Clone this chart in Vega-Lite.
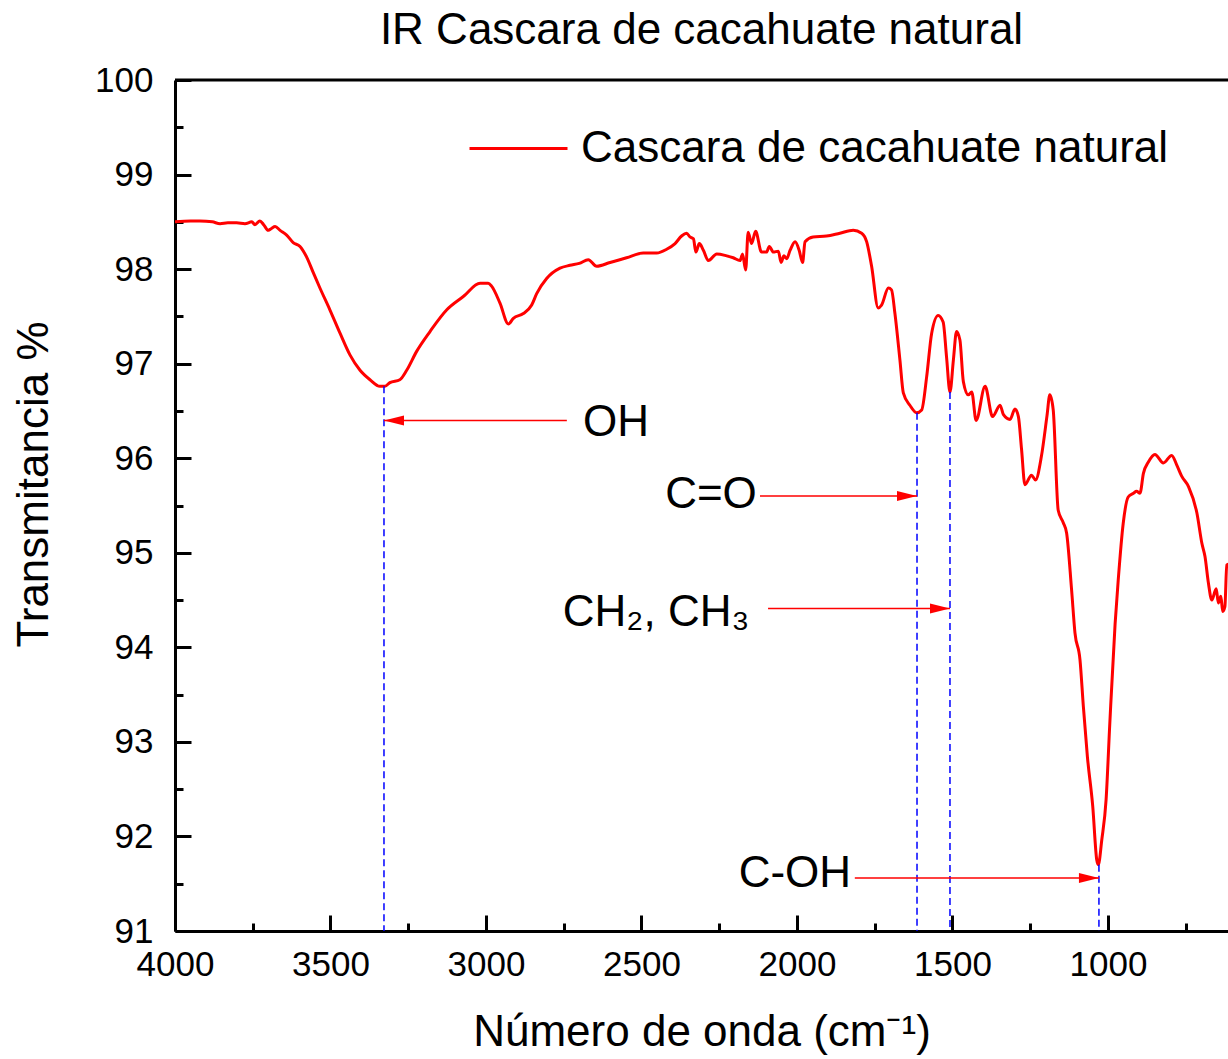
{
  "$schema": "https://vega.github.io/schema/vega-lite/v6.json",
  "autosize": {"type": "none"},
  "padding": {"left": 175, "top": 80, "right": 0, "bottom": 128},
  "width": 1053,
  "height": 851,
  "background": "white",
  "config": {
    "font": "Liberation Sans",
    "view": {"stroke": null},
    "axis": {"grid": false, "labelFont": "Liberation Sans", "titleFont": "Liberation Sans", "labelColor": "black", "titleColor": "black"}
  },
  "title": {"text": "IR Cascara de cacahuate natural", "fontSize": 44, "fontWeight": "normal", "font": "Liberation Sans", "color": "black", "anchor": "middle", "frame": "group", "baseline": "alphabetic", "offset": 36, "dy": 61},
  "datasets": {
    "spectrum": [
      {"wn": 4000, "t": 98.50, "serie": "Cascara de cacahuate natural"},
      {"wn": 3950, "t": 98.51, "serie": "Cascara de cacahuate natural"},
      {"wn": 3920, "t": 98.51, "serie": "Cascara de cacahuate natural"},
      {"wn": 3880, "t": 98.50, "serie": "Cascara de cacahuate natural"},
      {"wn": 3855, "t": 98.48, "serie": "Cascara de cacahuate natural"},
      {"wn": 3830, "t": 98.49, "serie": "Cascara de cacahuate natural"},
      {"wn": 3802, "t": 98.49, "serie": "Cascara de cacahuate natural"},
      {"wn": 3775, "t": 98.48, "serie": "Cascara de cacahuate natural"},
      {"wn": 3753, "t": 98.50, "serie": "Cascara de cacahuate natural"},
      {"wn": 3743, "t": 98.47, "serie": "Cascara de cacahuate natural"},
      {"wn": 3727, "t": 98.51, "serie": "Cascara de cacahuate natural"},
      {"wn": 3715, "t": 98.47, "serie": "Cascara de cacahuate natural"},
      {"wn": 3700, "t": 98.41, "serie": "Cascara de cacahuate natural"},
      {"wn": 3690, "t": 98.43, "serie": "Cascara de cacahuate natural"},
      {"wn": 3678, "t": 98.45, "serie": "Cascara de cacahuate natural"},
      {"wn": 3662, "t": 98.41, "serie": "Cascara de cacahuate natural"},
      {"wn": 3641, "t": 98.36, "serie": "Cascara de cacahuate natural"},
      {"wn": 3620, "t": 98.28, "serie": "Cascara de cacahuate natural"},
      {"wn": 3598, "t": 98.24, "serie": "Cascara de cacahuate natural"},
      {"wn": 3577, "t": 98.13, "serie": "Cascara de cacahuate natural"},
      {"wn": 3555, "t": 97.96, "serie": "Cascara de cacahuate natural"},
      {"wn": 3534, "t": 97.80, "serie": "Cascara de cacahuate natural"},
      {"wn": 3502, "t": 97.57, "serie": "Cascara de cacahuate natural"},
      {"wn": 3469, "t": 97.32, "serie": "Cascara de cacahuate natural"},
      {"wn": 3437, "t": 97.09, "serie": "Cascara de cacahuate natural"},
      {"wn": 3405, "t": 96.93, "serie": "Cascara de cacahuate natural"},
      {"wn": 3373, "t": 96.83, "serie": "Cascara de cacahuate natural"},
      {"wn": 3341, "t": 96.76, "serie": "Cascara de cacahuate natural"},
      {"wn": 3325, "t": 96.76, "serie": "Cascara de cacahuate natural"},
      {"wn": 3309, "t": 96.80, "serie": "Cascara de cacahuate natural"},
      {"wn": 3277, "t": 96.83, "serie": "Cascara de cacahuate natural"},
      {"wn": 3255, "t": 96.93, "serie": "Cascara de cacahuate natural"},
      {"wn": 3223, "t": 97.13, "serie": "Cascara de cacahuate natural"},
      {"wn": 3180, "t": 97.34, "serie": "Cascara de cacahuate natural"},
      {"wn": 3126, "t": 97.57, "serie": "Cascara de cacahuate natural"},
      {"wn": 3073, "t": 97.71, "serie": "Cascara de cacahuate natural"},
      {"wn": 3019, "t": 97.85, "serie": "Cascara de cacahuate natural"},
      {"wn": 2993, "t": 97.85, "serie": "Cascara de cacahuate natural"},
      {"wn": 2982, "t": 97.82, "serie": "Cascara de cacahuate natural"},
      {"wn": 2955, "t": 97.64, "serie": "Cascara de cacahuate natural"},
      {"wn": 2928, "t": 97.42, "serie": "Cascara de cacahuate natural"},
      {"wn": 2912, "t": 97.48, "serie": "Cascara de cacahuate natural"},
      {"wn": 2880, "t": 97.53, "serie": "Cascara de cacahuate natural"},
      {"wn": 2853, "t": 97.62, "serie": "Cascara de cacahuate natural"},
      {"wn": 2837, "t": 97.74, "serie": "Cascara de cacahuate natural"},
      {"wn": 2805, "t": 97.90, "serie": "Cascara de cacahuate natural"},
      {"wn": 2762, "t": 98.01, "serie": "Cascara de cacahuate natural"},
      {"wn": 2730, "t": 98.04, "serie": "Cascara de cacahuate natural"},
      {"wn": 2700, "t": 98.06, "serie": "Cascara de cacahuate natural"},
      {"wn": 2671, "t": 98.10, "serie": "Cascara de cacahuate natural"},
      {"wn": 2644, "t": 98.03, "serie": "Cascara de cacahuate natural"},
      {"wn": 2601, "t": 98.07, "serie": "Cascara de cacahuate natural"},
      {"wn": 2548, "t": 98.12, "serie": "Cascara de cacahuate natural"},
      {"wn": 2494, "t": 98.17, "serie": "Cascara de cacahuate natural"},
      {"wn": 2451, "t": 98.17, "serie": "Cascara de cacahuate natural"},
      {"wn": 2419, "t": 98.21, "serie": "Cascara de cacahuate natural"},
      {"wn": 2392, "t": 98.27, "serie": "Cascara de cacahuate natural"},
      {"wn": 2371, "t": 98.35, "serie": "Cascara de cacahuate natural"},
      {"wn": 2355, "t": 98.38, "serie": "Cascara de cacahuate natural"},
      {"wn": 2344, "t": 98.34, "serie": "Cascara de cacahuate natural"},
      {"wn": 2333, "t": 98.32, "serie": "Cascara de cacahuate natural"},
      {"wn": 2325, "t": 98.18, "serie": "Cascara de cacahuate natural"},
      {"wn": 2314, "t": 98.27, "serie": "Cascara de cacahuate natural"},
      {"wn": 2301, "t": 98.20, "serie": "Cascara de cacahuate natural"},
      {"wn": 2285, "t": 98.09, "serie": "Cascara de cacahuate natural"},
      {"wn": 2258, "t": 98.16, "serie": "Cascara de cacahuate natural"},
      {"wn": 2226, "t": 98.14, "serie": "Cascara de cacahuate natural"},
      {"wn": 2205, "t": 98.12, "serie": "Cascara de cacahuate natural"},
      {"wn": 2183, "t": 98.09, "serie": "Cascara de cacahuate natural"},
      {"wn": 2175, "t": 98.16, "serie": "Cascara de cacahuate natural"},
      {"wn": 2165, "t": 97.99, "serie": "Cascara de cacahuate natural"},
      {"wn": 2157, "t": 98.39, "serie": "Cascara de cacahuate natural"},
      {"wn": 2146, "t": 98.27, "serie": "Cascara de cacahuate natural"},
      {"wn": 2133, "t": 98.40, "serie": "Cascara de cacahuate natural"},
      {"wn": 2114, "t": 98.18, "serie": "Cascara de cacahuate natural"},
      {"wn": 2098, "t": 98.18, "serie": "Cascara de cacahuate natural"},
      {"wn": 2089, "t": 98.24, "serie": "Cascara de cacahuate natural"},
      {"wn": 2076, "t": 98.18, "serie": "Cascara de cacahuate natural"},
      {"wn": 2060, "t": 98.19, "serie": "Cascara de cacahuate natural"},
      {"wn": 2051, "t": 98.07, "serie": "Cascara de cacahuate natural"},
      {"wn": 2042, "t": 98.14, "serie": "Cascara de cacahuate natural"},
      {"wn": 2033, "t": 98.11, "serie": "Cascara de cacahuate natural"},
      {"wn": 2022, "t": 98.20, "serie": "Cascara de cacahuate natural"},
      {"wn": 2006, "t": 98.29, "serie": "Cascara de cacahuate natural"},
      {"wn": 1993, "t": 98.20, "serie": "Cascara de cacahuate natural"},
      {"wn": 1982, "t": 98.07, "serie": "Cascara de cacahuate natural"},
      {"wn": 1974, "t": 98.29, "serie": "Cascara de cacahuate natural"},
      {"wn": 1948, "t": 98.34, "serie": "Cascara de cacahuate natural"},
      {"wn": 1905, "t": 98.35, "serie": "Cascara de cacahuate natural"},
      {"wn": 1862, "t": 98.38, "serie": "Cascara de cacahuate natural"},
      {"wn": 1819, "t": 98.41, "serie": "Cascara de cacahuate natural"},
      {"wn": 1792, "t": 98.38, "serie": "Cascara de cacahuate natural"},
      {"wn": 1776, "t": 98.29, "serie": "Cascara de cacahuate natural"},
      {"wn": 1760, "t": 98.03, "serie": "Cascara de cacahuate natural"},
      {"wn": 1739, "t": 97.59, "serie": "Cascara de cacahuate natural"},
      {"wn": 1728, "t": 97.62, "serie": "Cascara de cacahuate natural"},
      {"wn": 1706, "t": 97.80, "serie": "Cascara de cacahuate natural"},
      {"wn": 1696, "t": 97.78, "serie": "Cascara de cacahuate natural"},
      {"wn": 1685, "t": 97.53, "serie": "Cascara de cacahuate natural"},
      {"wn": 1669, "t": 97.04, "serie": "Cascara de cacahuate natural"},
      {"wn": 1658, "t": 96.69, "serie": "Cascara de cacahuate natural"},
      {"wn": 1637, "t": 96.56, "serie": "Cascara de cacahuate natural"},
      {"wn": 1615, "t": 96.48, "serie": "Cascara de cacahuate natural"},
      {"wn": 1599, "t": 96.51, "serie": "Cascara de cacahuate natural"},
      {"wn": 1583, "t": 96.86, "serie": "Cascara de cacahuate natural"},
      {"wn": 1567, "t": 97.32, "serie": "Cascara de cacahuate natural"},
      {"wn": 1546, "t": 97.51, "serie": "Cascara de cacahuate natural"},
      {"wn": 1530, "t": 97.44, "serie": "Cascara de cacahuate natural"},
      {"wn": 1519, "t": 97.07, "serie": "Cascara de cacahuate natural"},
      {"wn": 1508, "t": 96.70, "serie": "Cascara de cacahuate natural"},
      {"wn": 1497, "t": 97.04, "serie": "Cascara de cacahuate natural"},
      {"wn": 1487, "t": 97.34, "serie": "Cascara de cacahuate natural"},
      {"wn": 1476, "t": 97.25, "serie": "Cascara de cacahuate natural"},
      {"wn": 1465, "t": 96.81, "serie": "Cascara de cacahuate natural"},
      {"wn": 1449, "t": 96.67, "serie": "Cascara de cacahuate natural"},
      {"wn": 1438, "t": 96.70, "serie": "Cascara de cacahuate natural"},
      {"wn": 1424, "t": 96.40, "serie": "Cascara de cacahuate natural"},
      {"wn": 1395, "t": 96.76, "serie": "Cascara de cacahuate natural"},
      {"wn": 1371, "t": 96.44, "serie": "Cascara de cacahuate natural"},
      {"wn": 1347, "t": 96.56, "serie": "Cascara de cacahuate natural"},
      {"wn": 1336, "t": 96.46, "serie": "Cascara de cacahuate natural"},
      {"wn": 1315, "t": 96.41, "serie": "Cascara de cacahuate natural"},
      {"wn": 1299, "t": 96.52, "serie": "Cascara de cacahuate natural"},
      {"wn": 1288, "t": 96.44, "serie": "Cascara de cacahuate natural"},
      {"wn": 1278, "t": 96.10, "serie": "Cascara de cacahuate natural"},
      {"wn": 1267, "t": 95.72, "serie": "Cascara de cacahuate natural"},
      {"wn": 1246, "t": 95.82, "serie": "Cascara de cacahuate natural"},
      {"wn": 1233, "t": 95.77, "serie": "Cascara de cacahuate natural"},
      {"wn": 1214, "t": 96.02, "serie": "Cascara de cacahuate natural"},
      {"wn": 1196, "t": 96.45, "serie": "Cascara de cacahuate natural"},
      {"wn": 1187, "t": 96.67, "serie": "Cascara de cacahuate natural"},
      {"wn": 1176, "t": 96.51, "serie": "Cascara de cacahuate natural"},
      {"wn": 1160, "t": 95.45, "serie": "Cascara de cacahuate natural"},
      {"wn": 1144, "t": 95.32, "serie": "Cascara de cacahuate natural"},
      {"wn": 1133, "t": 95.21, "serie": "Cascara de cacahuate natural"},
      {"wn": 1117, "t": 94.61, "serie": "Cascara de cacahuate natural"},
      {"wn": 1106, "t": 94.15, "serie": "Cascara de cacahuate natural"},
      {"wn": 1090, "t": 93.87, "serie": "Cascara de cacahuate natural"},
      {"wn": 1079, "t": 93.37, "serie": "Cascara de cacahuate natural"},
      {"wn": 1066, "t": 92.84, "serie": "Cascara de cacahuate natural"},
      {"wn": 1049, "t": 92.32, "serie": "Cascara de cacahuate natural"},
      {"wn": 1036, "t": 91.75, "serie": "Cascara de cacahuate natural"},
      {"wn": 1031, "t": 91.70, "serie": "Cascara de cacahuate natural"},
      {"wn": 1020, "t": 91.96, "serie": "Cascara de cacahuate natural"},
      {"wn": 1006, "t": 92.39, "serie": "Cascara de cacahuate natural"},
      {"wn": 994, "t": 93.20, "serie": "Cascara de cacahuate natural"},
      {"wn": 977, "t": 94.25, "serie": "Cascara de cacahuate natural"},
      {"wn": 967, "t": 94.71, "serie": "Cascara de cacahuate natural"},
      {"wn": 951, "t": 95.31, "serie": "Cascara de cacahuate natural"},
      {"wn": 935, "t": 95.59, "serie": "Cascara de cacahuate natural"},
      {"wn": 918, "t": 95.63, "serie": "Cascara de cacahuate natural"},
      {"wn": 908, "t": 95.65, "serie": "Cascara de cacahuate natural"},
      {"wn": 897, "t": 95.63, "serie": "Cascara de cacahuate natural"},
      {"wn": 886, "t": 95.84, "serie": "Cascara de cacahuate natural"},
      {"wn": 870, "t": 95.96, "serie": "Cascara de cacahuate natural"},
      {"wn": 849, "t": 96.04, "serie": "Cascara de cacahuate natural"},
      {"wn": 822, "t": 95.95, "serie": "Cascara de cacahuate natural"},
      {"wn": 795, "t": 96.03, "serie": "Cascara de cacahuate natural"},
      {"wn": 779, "t": 95.93, "serie": "Cascara de cacahuate natural"},
      {"wn": 763, "t": 95.81, "serie": "Cascara de cacahuate natural"},
      {"wn": 741, "t": 95.70, "serie": "Cascara de cacahuate natural"},
      {"wn": 714, "t": 95.42, "serie": "Cascara de cacahuate natural"},
      {"wn": 698, "t": 95.10, "serie": "Cascara de cacahuate natural"},
      {"wn": 688, "t": 94.96, "serie": "Cascara de cacahuate natural"},
      {"wn": 677, "t": 94.68, "serie": "Cascara de cacahuate natural"},
      {"wn": 666, "t": 94.50, "serie": "Cascara de cacahuate natural"},
      {"wn": 652, "t": 94.62, "serie": "Cascara de cacahuate natural"},
      {"wn": 645, "t": 94.47, "serie": "Cascara de cacahuate natural"},
      {"wn": 637, "t": 94.54, "serie": "Cascara de cacahuate natural"},
      {"wn": 631, "t": 94.38, "serie": "Cascara de cacahuate natural"},
      {"wn": 624, "t": 94.43, "serie": "Cascara de cacahuate natural"},
      {"wn": 618, "t": 94.87, "serie": "Cascara de cacahuate natural"},
      {"wn": 612, "t": 94.88, "serie": "Cascara de cacahuate natural"}
    ],
    "drops": [
      {"wn": 3328, "t": 96.76},
      {"wn": 1614, "t": 96.48},
      {"wn": 1508, "t": 96.70},
      {"wn": 1029, "t": 91.70}
    ],
    "arrows": [
      {"from": 2740, "to": 3328, "y": 96.40, "dir": "left"},
      {"from": 2119, "to": 1614, "y": 95.60, "dir": "right"},
      {"from": 2093, "to": 1508, "y": 94.41, "dir": "right"},
      {"from": 1814, "to": 1029, "y": 91.56, "dir": "right"}
    ],
    "labelsLeft": [
      {"wn": 2688, "t": 96.37, "label": "OH"},
      {"wn": 2753, "t": 94.36, "label": "CH₂, CH₃"}
    ],
    "labelsRight": [
      {"wn": 2129, "t": 95.61, "label": "C=O"},
      {"wn": 1826, "t": 91.60, "label": "C-OH"}
    ]
  },
  "layer": [
    {
      "data": {"name": "spectrum"},
      "mark": {"type": "line", "strokeWidth": 3, "clip": true, "interpolate": "monotone"},
      "encoding": {
        "x": {
          "field": "wn", "type": "quantitative",
          "scale": {"domain": [4000, 614], "nice": false, "zero": false},
          "axis": {
            "values": [4000, 3750, 3500, 3250, 3000, 2750, 2500, 2250, 2000, 1750, 1500, 1250, 1000, 750],
            "format": "d",
            "labelExpr": "datum.value % 500 === 0 ? datum.label : ''",
            "labelFontSize": 35,
            "labelPadding": 32,
            "labelFlush": false,
            "labelOverlap": false,
            "tickSize": {"condition": {"test": "datum.value % 500 === 0", "value": -16}, "value": -8},
            "tickWidth": 3,
            "tickColor": "black",
            "domainWidth": 3,
            "domainColor": "black",
            "title": "Número de onda (cm⁻¹)",
            "titleFontSize": 44,
            "titleFontWeight": "normal",
            "titleBaseline": "alphabetic",
            "titleY": 114
          }
        },
        "y": {
          "field": "t", "type": "quantitative",
          "scale": {"domain": [91, 100], "nice": false, "zero": false},
          "axis": {
            "values": [91, 91.5, 92, 92.5, 93, 93.5, 94, 94.5, 95, 95.5, 96, 96.5, 97, 97.5, 98, 98.5, 99, 99.5, 100],
            "format": ".0f",
            "labelExpr": "datum.value % 1 === 0 ? datum.label : ''",
            "labelFontSize": 35,
            "labelPadding": 38,
            "labelOverlap": false,
            "labelFlush": false,
            "tickSize": {"condition": {"test": "datum.value % 1 === 0", "value": -16}, "value": -8},
            "tickWidth": 3,
            "tickColor": "black",
            "domainWidth": 3,
            "domainColor": "black",
            "title": "Transmitancia %",
            "titleFontSize": 44,
            "titleFontWeight": "normal",
            "titleAngle": -90,
            "titleAlign": "center",
            "titleBaseline": "alphabetic",
            "titleX": -128,
            "titleY": 404
          }
        },
        "color": {
          "field": "serie", "type": "nominal",
          "scale": {"range": ["#ff0000"]},
          "legend": {
            "title": null,
            "orient": "none",
            "legendX": 293,
            "legendY": 18,
            "padding": 0,
            "symbolType": "stroke",
            "symbolSize": 9604,
            "symbolStrokeWidth": 3,
            "labelFontSize": 44,
            "labelFont": "Liberation Sans",
            "labelColor": "black",
            "labelOffset": 12,
            "labelLimit": 1000
          }
        }
      }
    },
    {
      "data": {"values": [{"top": 100}]},
      "mark": {"type": "rule", "color": "black", "strokeWidth": 3},
      "encoding": {"y": {"field": "top", "type": "quantitative"}}
    },
    {
      "data": {"name": "drops"},
      "mark": {"type": "rule", "color": "#0000ff", "strokeWidth": 1.5, "strokeDash": [7, 4]},
      "encoding": {
        "x": {"field": "wn", "type": "quantitative"},
        "y": {"field": "t", "type": "quantitative"},
        "y2": {"datum": 91}
      }
    },
    {
      "data": {"name": "arrows"},
      "mark": {"type": "rule", "color": "#ff0000", "strokeWidth": 1.5},
      "encoding": {
        "x": {"field": "from", "type": "quantitative"},
        "x2": {"field": "to"},
        "y": {"field": "y", "type": "quantitative"}
      }
    },
    {
      "data": {"name": "arrows"},
      "mark": {"type": "point", "filled": true, "color": "#ff0000", "size": 400, "opacity": 1, "strokeWidth": 0},
      "encoding": {
        "x": {"field": "to", "type": "quantitative"},
        "y": {"field": "y", "type": "quantitative"},
        "shape": {
          "field": "dir", "type": "nominal",
          "scale": {"domain": ["left", "right"], "range": ["M0,0L2,-0.5L2,0.5Z", "M0,0L-2,-0.5L-2,0.5Z"]},
          "legend": null
        }
      }
    },
    {
      "data": {"name": "labelsLeft"},
      "mark": {"type": "text", "align": "left", "baseline": "middle", "fontSize": 44, "font": "Liberation Sans", "color": "black"},
      "encoding": {
        "x": {"field": "wn", "type": "quantitative"},
        "y": {"field": "t", "type": "quantitative"},
        "text": {"field": "label"}
      }
    },
    {
      "data": {"name": "labelsRight"},
      "mark": {"type": "text", "align": "right", "baseline": "middle", "fontSize": 44, "font": "Liberation Sans", "color": "black"},
      "encoding": {
        "x": {"field": "wn", "type": "quantitative"},
        "y": {"field": "t", "type": "quantitative"},
        "text": {"field": "label"}
      }
    }
  ]
}
